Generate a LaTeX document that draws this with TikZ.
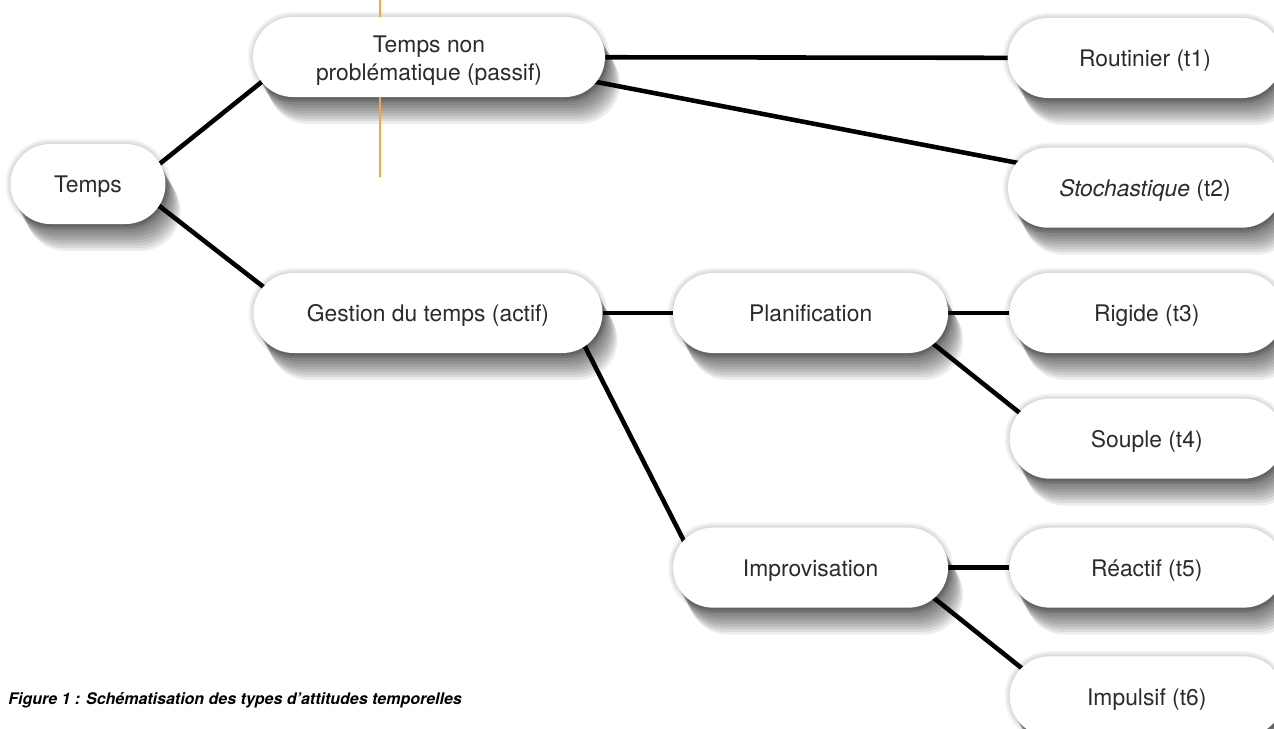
\documentclass[tikz,border=0pt]{standalone}
\usepackage{fontspec}
\setmainfont{TeX Gyre Heros}
\usetikzlibrary{calc,shadows,backgrounds,positioning}
\definecolor{ink}{HTML}{2B2B2B}
\definecolor{guide}{HTML}{F5A54A}
\pgfdeclarelayer{paper}
\pgfsetlayers{paper,background,main}
\tikzset{
haze/.style={general shadow={fill=black, opacity=.075, shadow xshift=#1*.85pt, shadow yshift=-#1*1.53pt}},
ring/.style={general shadow={draw=black, opacity=.035, line width=#1, shadow xshift=0pt, shadow yshift=0pt}},
bubble/.style={
  rectangle,
  rounded corners=.8cm,
  fill=white,
  minimum width=#1,
  minimum height=1.6cm,
  align=center,
  text=ink,
  text height=10.2pt,
  text depth=0pt,
  font=\fontsize{13}{16}\selectfont,
  ring/.list={1.5pt,3pt,4.5pt,6pt},
  haze/.list={1,...,10}},
branch/.style={draw, line width=2.6pt},
guideline/.style={draw=guide, line width=.7pt}
}

\begin{document}
\begin{tikzpicture}[x=.02cm, y=-.02cm]
    \begin{pgfonlayer}{paper}
      \fill[white] (0,0) rectangle (1274,728);
    \end{pgfonlayer}
    \path[use as bounding box, clip] (0,0) rectangle (1274,728);
    \node [bubble=3.1cm] (temps) at (88,184) {Temps};
    \node [bubble=7.04cm, text height=27.2pt] (passif) at (429,57) {Temps non\\problématique (passif)};
    \node [bubble=6.98cm] (actif) at (428,313) {Gestion du temps (actif)};
    \node [bubble=5.5cm, right=1.4cm of actif] (plan) {Planification};
    \node [bubble=5.5cm, below=3.48cm of plan] (impro) {Improvisation};
    \node [bubble=5.48cm] (routinier) at (1145,58) {Routinier (t1)};
    \node [bubble=5.48cm, below=.98cm of routinier] (stoch) {\textit{Stochastique} (t2)};
    \node [bubble=5.48cm, right=1.22cm of plan] (rigide) {Rigide (t3)};
    \node [bubble=5.48cm, below=.9cm of rigide] (souple) {Souple (t4)};
    \node [bubble=5.48cm, right=1.22cm of impro] (reactif) {Réactif (t5)};
    \node [bubble=5.48cm, below=.96cm of reactif] (impulsif) {Impulsif (t6)};
    \begin{pgfonlayer}{background}
      \path [branch] ($(temps.east)+(-40,7)$) -- ($(passif.west)+(40,0)$);
      \path [branch] ($(temps.east)+(-40,-4)$) -- ($(actif.west)+(40,-3)$);
      \path [branch] (passif) -- (routinier);
      \path [branch] ($(passif.east)+(-40,19)$) -- ($(stoch.west)+(40,-19)$);
      \path [branch] (actif) -- (plan);
      \path [branch] ($(actif.east)+(-40,-10)$) -- ($(impro.west)+(40,30)$);
      \path [branch] (plan) -- (rigide);
      \path [branch] ($(plan.east)+(-40,11)$) -- ($(souple.west)+(40,-2)$);
      \path [branch] (impro) -- (reactif);
      \path [branch] ($(impro.east)+(-40,10)$) -- ($(impulsif.west)+(40,-6)$);
    \end{pgfonlayer}
    % stray guide
    \path [guideline] (380,0) -- (380,17) (380,97) -- (380,177);
    \node [anchor=base west, inner sep=0pt, font=\fontsize{9.1}{11}\selectfont\bfseries\itshape] (legende) at (8,704) {Figure 1 : Schématisation des types d’attitudes temporelles};
\end{tikzpicture}
\end{document}
